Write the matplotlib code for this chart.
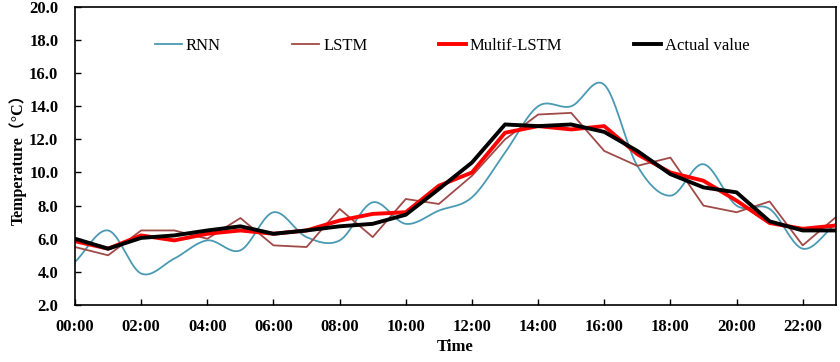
import numpy as np
import matplotlib.pyplot as plt

hours = list(range(24))
tick_hours = list(range(0, 24, 2))
tick_labels = ["%02d:00" % h for h in tick_hours]

rnn = [4.6, 6.5, 3.9, 4.8, 5.9, 5.3, 7.6, 6.1, 5.9, 8.2, 6.9, 7.7,
       8.5, 11.2, 14.0, 14.0, 15.3, 10.4, 8.6, 10.5, 8.0, 7.8, 5.4, 6.9]
lstm = [5.5, 5.0, 6.5, 6.5, 6.0, 7.25, 5.6, 5.5, 7.8, 6.1, 8.4, 8.1,
        9.8, 12.0, 13.5, 13.6, 11.3, 10.4, 10.9, 8.0, 7.6, 8.25, 5.6, 7.3]
multif = [5.85, 5.4, 6.2, 5.9, 6.3, 6.5, 6.3, 6.5, 7.1, 7.5, 7.6, 9.2,
          10.0, 12.4, 12.8, 12.6, 12.8, 11.1, 10.0, 9.5, 8.3, 6.95, 6.6, 6.8]
actual = [6.0, 5.4, 6.05, 6.2, 6.5, 6.75, 6.3, 6.5, 6.75, 6.9, 7.45, 9.0,
          10.6, 12.9, 12.8, 12.9, 12.45, 11.3, 9.9, 9.1, 8.8, 7.05, 6.5, 6.5]


def smooth(x, y, n=20):
    # catmull-rom, roughly what excel does for "smoothed line"
    x = np.asarray(x, float)
    y = np.asarray(y, float)
    px = np.concatenate([[2 * x[0] - x[1]], x, [2 * x[-1] - x[-2]]])
    py = np.concatenate([[2 * y[0] - y[1]], y, [2 * y[-1] - y[-2]]])
    xs, ys = [], []
    t = np.linspace(0, 1, n, endpoint=False)
    for i in range(1, len(px) - 2):
        for p, out in ((px, xs), (py, ys)):
            p0, p1, p2, p3 = p[i - 1], p[i], p[i + 1], p[i + 2]
            out.extend(0.5 * (2 * p1 + (-p0 + p2) * t
                              + (2 * p0 - 5 * p1 + 4 * p2 - p3) * t ** 2
                              + (-p0 + 3 * p1 - 3 * p2 + p3) * t ** 3))
    xs.append(x[-1])
    ys.append(y[-1])
    return xs, ys


plt.rcParams['font.family'] = ['Liberation Serif', 'Noto Sans CJK SC']

fig = plt.figure(figsize=(8.4, 3.62), dpi=100)
ax = fig.add_axes([0.0893, 0.1575, 0.9057, 0.8235])

sx, sy = smooth(hours, rnn)
ax.plot(sx, sy, color='#4a9ab4', lw=1.3, label='RNN')
ax.plot(hours, lstm, color='#a04a48', lw=1.3, label='LSTM')
ax.plot(hours, multif, color='#ff0000', lw=2.8, label='Multif-LSTM')
ax.plot(hours, actual, color='#000000', lw=2.8, label='Actual value')

ax.set_xlim(0, 23)
ax.set_ylim(2, 20)
ax.set_xticks(tick_hours)
ax.set_xticklabels(tick_labels)
ax.set_yticks(np.arange(2, 20.1, 2))
ax.set_yticklabels(["%.1f" % v for v in np.arange(2, 20.1, 2)])
ax.tick_params(direction='in', length=4, width=1, labelsize=12)
ax.tick_params(axis='x', pad=10)
ax.tick_params(axis='y', pad=12)
for lab in ax.get_xticklabels() + ax.get_yticklabels():
    lab.set_fontweight('bold')
for s in ax.spines.values():
    s.set_linewidth(1.2)

ax.set_xlabel('Time', fontsize=12, fontweight='bold', labelpad=3)
ax.set_ylabel('Temperature（°C）', fontsize=11.5, fontweight='bold', labelpad=2)

ax.legend(loc='upper left', bbox_to_anchor=(0.105, 0.896), ncol=4, frameon=False,
          fontsize=12, handlelength=1.6, handletextpad=0.25, columnspacing=4.3,
          borderaxespad=0, borderpad=0)

plt.savefig('out.png', dpi=100)
